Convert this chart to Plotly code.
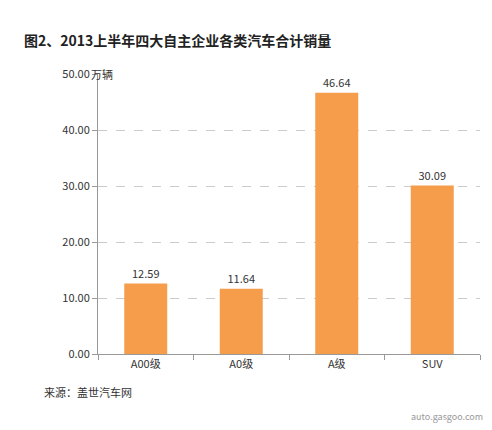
import plotly.graph_objects as go

categories = ["A00级", "A0级", "A级", "SUV"]
sales = [12.59, 11.64, 46.64, 30.09]
tick_vals = [0, 10, 20, 30, 40, 50]
tick_text = ["0.00", "10.00", "20.00", "30.00", "40.00", "50.00"]

font = "Noto Sans CJK SC"

fig = go.Figure(go.Bar(
    x=categories, y=sales,
    marker=dict(color="#F59D4A", line=dict(width=0)),
    width=0.45,
    text=["%.2f" % v for v in sales], textposition="outside",
    textfont=dict(size=11, color="#333"),
    cliponaxis=False,
))

fig.update_layout(
    width=492, height=430,
    margin=dict(l=90, r=20, t=66, b=84),
    paper_bgcolor="white", plot_bgcolor="white",
    font=dict(family=font, size=11, color="#333"),
    showlegend=False,
    annotations=[
        dict(text="<b>图2、2013上半年四大自主企业各类汽车合计销量</b>", x=0, xref="paper",
             xanchor="left", xshift=-76, y=1.12, yref="paper", yanchor="middle",
             showarrow=False, font=dict(size=14, color="#222")),
        dict(text="万辆", x=0, xref="paper", xanchor="left", xshift=-9,
             y=50, yref="y", showarrow=False, font=dict(size=11, color="#333")),
        dict(text="来源：盖世汽车网", x=0, xref="paper", xanchor="left", xshift=-56,
             y=-0.17, yref="paper", showarrow=False, font=dict(size=11, color="#333")),
        dict(text="auto.gasgoo.com", x=1, xref="paper", xanchor="right", xshift=5,
             y=-0.255, yref="paper", showarrow=False, font=dict(size=9, color="#999")),
    ],
)

fig.update_xaxes(showline=True, linecolor="#999", ticks="outside", tickson="boundaries",
                 tickcolor="#999", ticklen=5, tickfont=dict(size=11))
fig.update_yaxes(range=[0, 50], tickvals=tick_vals, ticktext=tick_text,
                 showgrid=True, gridcolor="#ccc", griddash="dash",
                 showline=True, linecolor="#999", ticks="outside", tickcolor="#999",
                 ticklen=5, zeroline=False, tickfont=dict(size=11))

fig.write_html("out.html")
